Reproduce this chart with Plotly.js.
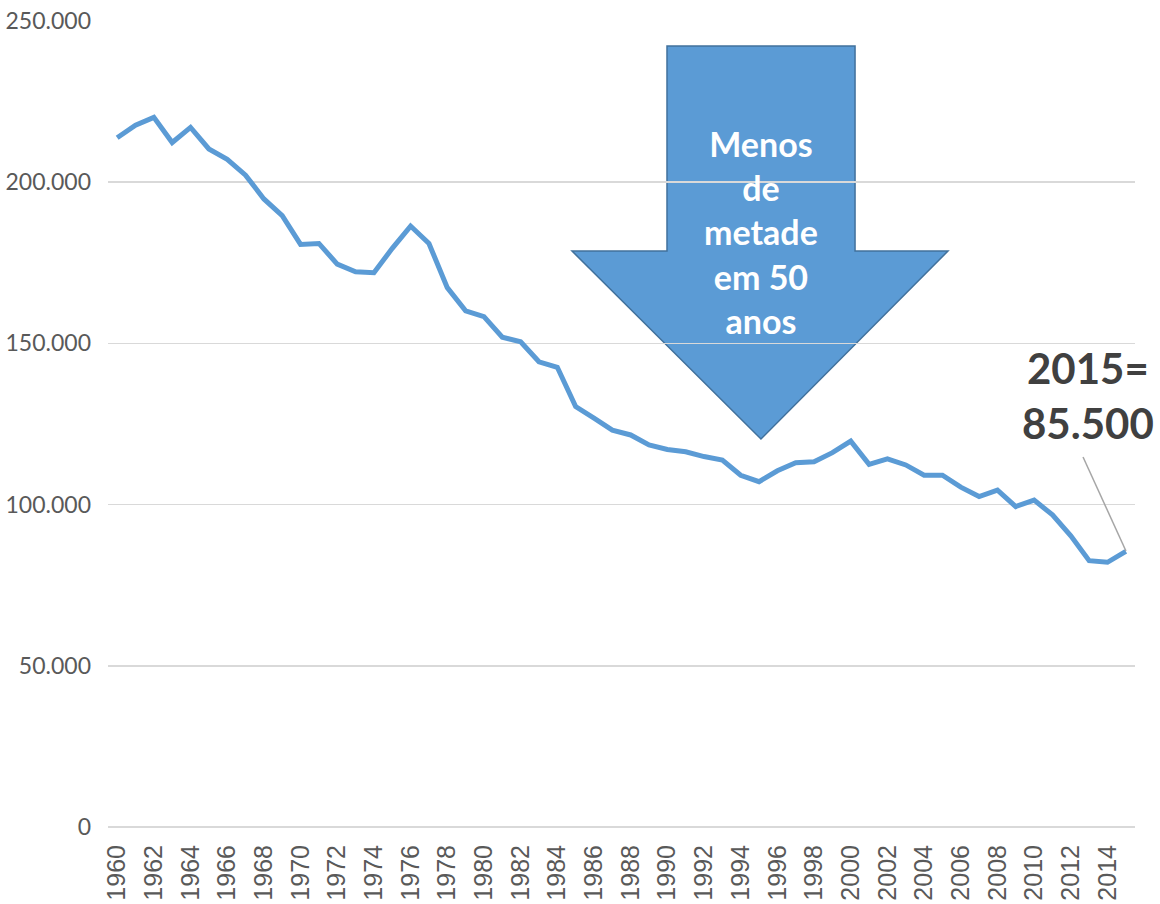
<!DOCTYPE html>
<html>
<head>
<meta charset="utf-8">
<script src="https://cdn.plot.ly/plotly-3.0.1.min.js"></script>
<style>html,body{margin:0;padding:0;background:#fff;}#chart{width:1160px;height:904px;}</style>
</head>
<body>
<div id="chart"></div>
<script>
const years = [1960,1961,1962,1963,1964,1965,1966,1967,1968,1969,
  1970,1971,1972,1973,1974,1975,1976,1977,1978,1979,
  1980,1981,1982,1983,1984,1985,1986,1987,1988,1989,
  1990,1991,1992,1993,1994,1995,1996,1997,1998,1999,
  2000,2001,2002,2003,2004,2005,2006,2007,2008,2009,
  2010,2011,2012,2013,2014,2015];
const values = [213800,217700,220100,212300,217000,210300,207100,202200,194800,189600,
  180700,181000,174600,172200,171900,179500,186400,181000,167300,160100,
  158300,151900,150500,144300,142600,130400,126800,123100,121600,118500,
  117100,116400,114900,113800,109100,107100,110500,113000,113300,116100,
  119700,112500,114200,112300,109100,109100,105400,102500,104500,99400,
  101400,96800,90300,82600,82100,85500];
const arrowText = "Menos<br>de<br>metade<br>em 50<br>anos";
const calloutText = "2015=<br>85.500";

const trace = {
  x: years, y: values, type: 'scatter', mode: 'lines',
  line: {color: '#5b9bd5', width: 5},
  hoverinfo: 'skip'
};

const layout = {
  width: 1160, height: 904,
  margin: {l: 108, r: 25, t: 21, b: 77},
  paper_bgcolor: '#ffffff', plot_bgcolor: '#ffffff',
  separators: ',.',
  showlegend: false,
  xaxis: {
    range: [1959.5, 2015.5], tick0: 1960, dtick: 2, tickangle: -90,
    showgrid: false, zeroline: false, showline: false, ticks: '',
    ticklabelstandoff: 12,
    tickfont: {family: 'Liberation Sans, Arial, sans-serif', size: 25, color: '#595959'}
  },
  yaxis: {
    range: [0, 250000], dtick: 50000, tickformat: ',d',
    showgrid: true, gridcolor: '#d9d9d9', gridwidth: 1.5,
    zeroline: true, zerolinecolor: '#d9d9d9', zerolinewidth: 1.5,
    showline: false, ticks: '', ticklabelstandoff: 16,
    tickfont: {family: 'Lato, Calibri, sans-serif', size: 23, color: '#595959'}
  },
  shapes: [
    {
      type: 'path', xref: 'paper', yref: 'paper', layer: 'below',
      path: 'M 0.5443 0.969 L 0.7274 0.969 L 0.7274 0.7146 L 0.8179 0.7146 L 0.6358 0.4814 L 0.4518 0.7146 L 0.5443 0.7146 Z',
      fillcolor: '#5b9bd5', line: {color: '#41719c', width: 1.5}
    },
    {
      type: 'line', xref: 'paper', yref: 'paper', layer: 'above',
      x0: 0.9494, y0: 0.4591, x1: 0.9912, y1: 0.3424,
      line: {color: '#a6a6a6', width: 1.5}
    }
  ],
  annotations: [
    {
      xref: 'paper', yref: 'paper', x: 0.6358, y: 0.738,
      xanchor: 'center', yanchor: 'middle', showarrow: false,
      text: arrowText, align: 'center',
      font: {family: 'Lato, Calibri, sans-serif', size: 34, color: '#ffffff', weight: 'bold'}
    },
    {
      xref: 'paper', yref: 'paper', x: 0.954, y: 0.535,
      xanchor: 'center', yanchor: 'middle', showarrow: false,
      text: calloutText, align: 'center',
      font: {family: 'Lato, Calibri, sans-serif', size: 42, color: '#404040', weight: 'bold'}
    }
  ]
};

Plotly.newPlot('chart', [trace], layout, {displayModeBar: false, staticPlot: true});
</script>
</body>
</html>
